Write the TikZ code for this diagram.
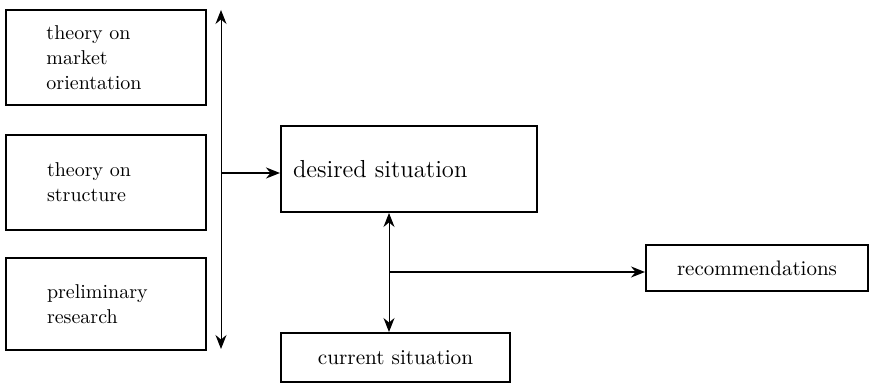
\documentclass[tikz,border=0pt]{standalone}
\usetikzlibrary{arrows.meta}
\begin{document}
\begin{tikzpicture}[x=0.5pt,y=-0.5pt,
  box/.style={draw,line width=1pt,rectangle,inner sep=0pt},
  srcbox/.style={box,minimum width=100pt,text width=59pt,inner xsep=20.5pt,align=left,font=\fontsize{10}{12.5}\selectfont},
  tip/.tip={Stealth[length=7pt,width=5.5pt]},
  conn/.style={line width=0.5pt,-tip},
  both/.style={line width=0.5pt,tip-tip}]
\useasboundingbox (0,0) rectangle (877,383);

% input boxes on the left
\node[srcbox,minimum height=47.5pt] (theory) at (105.5,57.5) {theory on\\market\\orientation};
\node[srcbox,minimum height=47.5pt] (struct) at (106,182.5) {theory on\\structure};
\node[srcbox,minimum height=46pt] (prelim) at (106,304) {preliminary\\research};

% bus line gathering the inputs
\coordinate (bustop) at (221,10);
\coordinate (busbot) at (221,349);
\coordinate (busout) at (221,173);
\draw[both] (busbot) -- (bustop);

% situations and result
\node[box,minimum width=128pt,minimum height=43pt,text width=116pt,inner xsep=6pt,align=left,
      font=\fontsize{12.3}{15}\selectfont] (desired) at (409,169) {desired situation};
\node[box,minimum width=114.5pt,minimum height=24.5pt,font=\fontsize{10.6}{13}\selectfont] (current) at (395.5,357.5) {current situation};
\node[box,minimum width=111pt,minimum height=23pt,font=\fontsize{10.5}{13}\selectfont] (recs) at (757,268) {recommendations};

\draw[line width=1pt,-tip] (busout) -- (busout -| desired.west);

\coordinate (split) at (389,272);
\draw[both] (split |- desired.south) -- (split |- current.north);
\draw[conn,line width=0.8pt] (split) -- (split -| recs.west);
\end{tikzpicture}
\end{document}
